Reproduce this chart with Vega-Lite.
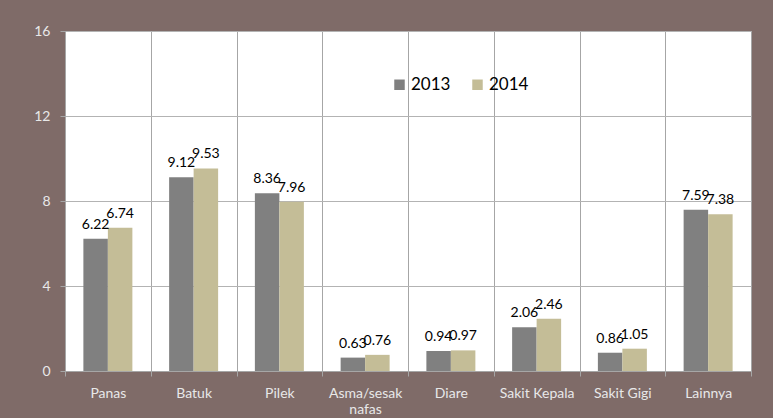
{
  "$schema": "https://vega.github.io/schema/vega-lite/v6.json",
  "width": 686,
  "height": 340,
  "autosize": {"type": "none"},
  "padding": {"left": 65, "top": 31, "right": 22, "bottom": 47},
  "background": "#7f6b68",
  "config": {
    "font": "Lato",
    "view": {"fill": "#ffffff", "stroke": "#a6a6a6", "strokeWidth": 1}
  },
  "data": {
    "values": [
      {"kategori": "Panas", "tahun": "2013", "nilai": 6.22},
      {"kategori": "Panas", "tahun": "2014", "nilai": 6.74},
      {"kategori": "Batuk", "tahun": "2013", "nilai": 9.12},
      {"kategori": "Batuk", "tahun": "2014", "nilai": 9.53},
      {"kategori": "Pilek", "tahun": "2013", "nilai": 8.36},
      {"kategori": "Pilek", "tahun": "2014", "nilai": 7.96},
      {"kategori": "Asma/sesak nafas", "tahun": "2013", "nilai": 0.63},
      {"kategori": "Asma/sesak nafas", "tahun": "2014", "nilai": 0.76},
      {"kategori": "Diare", "tahun": "2013", "nilai": 0.94},
      {"kategori": "Diare", "tahun": "2014", "nilai": 0.97},
      {"kategori": "Sakit Kepala", "tahun": "2013", "nilai": 2.06},
      {"kategori": "Sakit Kepala", "tahun": "2014", "nilai": 2.46},
      {"kategori": "Sakit Gigi", "tahun": "2013", "nilai": 0.86},
      {"kategori": "Sakit Gigi", "tahun": "2014", "nilai": 1.05},
      {"kategori": "Lainnya", "tahun": "2013", "nilai": 7.59},
      {"kategori": "Lainnya", "tahun": "2014", "nilai": 7.38}
    ]
  },
  "encoding": {
    "x": {
      "field": "kategori",
      "type": "nominal",
      "sort": null,
      "scale": {"paddingInner": 0, "paddingOuter": 0},
      "axis": {
        "title": null,
        "labelAngle": 0,
        "tickBand": "extent",
        "grid": true,
        "gridColor": "#a6a6a6",
        "gridOpacity": 1,
        "domainColor": "#a6a6a6",
        "tickColor": "#a6a6a6",
        "tickSize": 5,
        "labelColor": "#e8e8e8",
        "labelFontSize": 14,
        "labelPadding": 10,
        "labelExpr": "datum.label == 'Asma/sesak nafas' ? ['Asma/sesak', 'nafas'] : datum.label"
      }
    },
    "xOffset": {
      "field": "tahun",
      "type": "nominal",
      "scale": {"paddingInner": 0, "paddingOuter": 0.75}
    },
    "y": {
      "field": "nilai",
      "type": "quantitative",
      "scale": {"domain": [0, 16]},
      "axis": {
        "title": null,
        "values": [0, 4, 8, 12, 16],
        "grid": true,
        "gridColor": "#b3b3b3",
        "gridOpacity": 1,
        "domain": false,
        "tickColor": "#a6a6a6",
        "tickSize": 5,
        "labelColor": "#e8e8e8",
        "labelFontSize": 14,
        "labelPadding": 10
      }
    }
  },
  "layer": [
    {
      "mark": {"type": "bar"},
      "encoding": {
        "color": {
          "field": "tahun",
          "type": "nominal",
          "scale": {"domain": ["2013", "2014"], "range": ["#808080", "#c4bd97"]},
          "legend": {
            "title": null,
            "orient": "none",
            "direction": "horizontal",
            "legendX": 326,
            "legendY": 45,
            "symbolType": "square",
            "symbolSize": 110,
            "symbolStrokeWidth": 0,
            "labelFontSize": 17,
            "labelColor": "#000000",
            "columnPadding": 18,
            "labelOffset": 3
          }
        }
      }
    },
    {
      "mark": {"type": "text", "baseline": "bottom", "dy": -7, "fontSize": 14, "color": "#000000"},
      "encoding": {
        "text": {"field": "nilai", "type": "quantitative", "format": ".2f"}
      }
    }
  ]
}
